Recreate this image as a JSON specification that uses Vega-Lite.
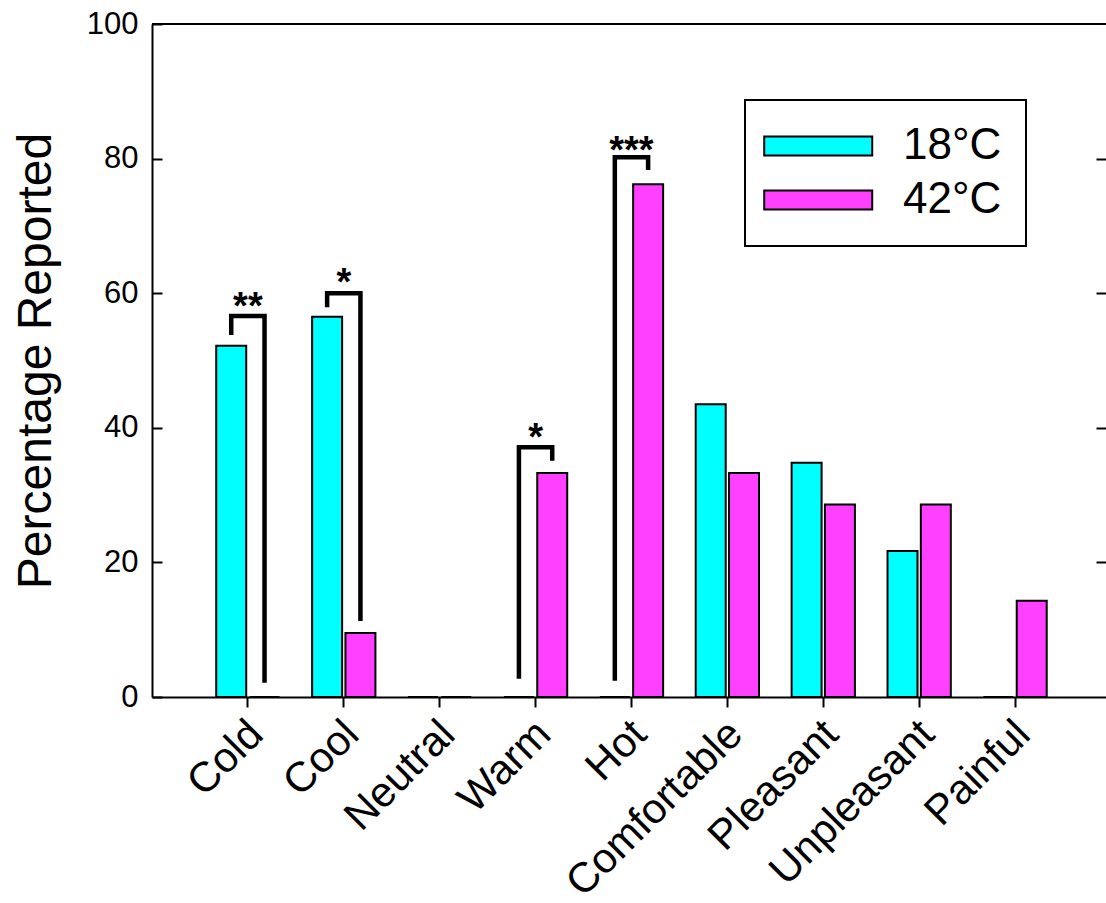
{
  "$schema": "https://vega.github.io/schema/vega-lite/v6.json",
  "width": 954,
  "height": 673,
  "autosize": "none",
  "padding": {"left": 152, "top": 24, "right": 0, "bottom": 206},
  "background": "white",
  "config": {
    "font": "Liberation Sans",
    "view": {"stroke": null},
    "legend": {"strokeWidth": 2}
  },
  "datasets": {
    "bars": [
      {"cat": "Cold", "temp": "18°C", "pct": 52.2},
      {"cat": "Cold", "temp": "42°C", "pct": 0},
      {"cat": "Cool", "temp": "18°C", "pct": 56.5},
      {"cat": "Cool", "temp": "42°C", "pct": 9.5},
      {"cat": "Neutral", "temp": "18°C", "pct": 0},
      {"cat": "Neutral", "temp": "42°C", "pct": 0},
      {"cat": "Warm", "temp": "18°C", "pct": 0},
      {"cat": "Warm", "temp": "42°C", "pct": 33.3},
      {"cat": "Hot", "temp": "18°C", "pct": 0},
      {"cat": "Hot", "temp": "42°C", "pct": 76.2},
      {"cat": "Comfortable", "temp": "18°C", "pct": 43.5},
      {"cat": "Comfortable", "temp": "42°C", "pct": 33.3},
      {"cat": "Pleasant", "temp": "18°C", "pct": 34.8},
      {"cat": "Pleasant", "temp": "42°C", "pct": 28.6},
      {"cat": "Unpleasant", "temp": "18°C", "pct": 21.7},
      {"cat": "Unpleasant", "temp": "42°C", "pct": 28.6},
      {"cat": "Painful", "temp": "18°C", "pct": 0},
      {"cat": "Painful", "temp": "42°C", "pct": 14.3}
    ],
    "brackets": [
      {"cat": "Cold", "temp": "18°C", "y": 53.8, "o": 1},
      {"cat": "Cold", "temp": "18°C", "y": 56.6, "o": 2},
      {"cat": "Cold", "temp": "42°C", "y": 56.6, "o": 3},
      {"cat": "Cold", "temp": "42°C", "y": 2.1, "o": 4},
      {"cat": "Cool", "temp": "18°C", "y": 57.9, "o": 1},
      {"cat": "Cool", "temp": "18°C", "y": 60.0, "o": 2},
      {"cat": "Cool", "temp": "42°C", "y": 60.0, "o": 3},
      {"cat": "Cool", "temp": "42°C", "y": 11.3, "o": 4},
      {"cat": "Warm", "temp": "18°C", "y": 2.7, "o": 1},
      {"cat": "Warm", "temp": "18°C", "y": 37.1, "o": 2},
      {"cat": "Warm", "temp": "42°C", "y": 37.1, "o": 3},
      {"cat": "Warm", "temp": "42°C", "y": 35.1, "o": 4},
      {"cat": "Hot", "temp": "18°C", "y": 2.4, "o": 1},
      {"cat": "Hot", "temp": "18°C", "y": 80.2, "o": 2},
      {"cat": "Hot", "temp": "42°C", "y": 80.2, "o": 3},
      {"cat": "Hot", "temp": "42°C", "y": 78.3, "o": 4}
    ],
    "stars": [
      {"cat": "Cold", "y": 56.2, "label": "**"},
      {"cat": "Cool", "y": 59.8, "label": "*"},
      {"cat": "Warm", "y": 36.7, "label": "*"},
      {"cat": "Hot", "y": 79.3, "label": "***"}
    ]
  },
  "resolve": {"axis": {"y": "independent"}},
  "layer": [
    {
      "data": {"values": [{"v": 100}]},
      "mark": {"type": "rule", "color": "black", "strokeWidth": 2},
      "encoding": {
        "y": {
          "field": "v", "type": "quantitative",
          "scale": {"domain": [0, 100], "nice": false},
          "axis": {"orient": "right", "values": [20, 40, 60, 80], "labels": false, "domain": false, "tickSize": -10, "tickWidth": 2, "tickColor": "black", "title": null, "grid": false}
        }
      }
    },
    {
      "data": {"name": "bars"},
      "mark": {"type": "bar", "stroke": "black", "strokeWidth": 2, "opacity": 1},
      "encoding": {
        "x": {
          "field": "cat", "type": "nominal", "title": null,
          "sort": ["Cold", "Cool", "Neutral", "Warm", "Hot", "Comfortable", "Pleasant", "Unpleasant", "Painful"],
          "scale": {"type": "band", "paddingInner": 0.34, "paddingOuter": 0.644, "align": 0.52},
          "axis": {"labelAngle": -45, "labelFontSize": 42, "labelLimit": 0, "labelColor": "black", "tickSize": 10, "tickColor": "black", "tickWidth": 2, "domainColor": "black", "domainWidth": 2, "labelPadding": 6, "labelOffset": -6, "grid": false}
        },
        "xOffset": {
          "field": "temp", "type": "nominal",
          "scale": {"domain": ["18°C", "42°C"], "paddingInner": 0.1, "paddingOuter": 0}
        },
        "y": {
          "field": "pct", "type": "quantitative",
          "scale": {"domain": [0, 100], "nice": false},
          "axis": {"title": "Percentage Reported", "titleFontSize": 48, "titleFontWeight": "normal", "titleColor": "black", "titlePadding": 26, "values": [0, 20, 40, 60, 80, 100], "tickSize": -10, "tickWidth": 2, "tickColor": "black", "labelFontSize": 31, "labelColor": "black", "labelPadding": 24, "grid": false, "domainWidth": 2, "domainColor": "black"}
        },
        "color": {
          "field": "temp", "type": "nominal",
          "scale": {"domain": ["18°C", "42°C"], "range": ["#00FFFF", "#FF40FF"]},
          "legend": {"title": null, "orient": "none", "legendX": 593, "legendY": 76, "padding": 24, "strokeColor": "black", "fillColor": "white", "labelFontSize": 44, "labelColor": "black", "labelOffset": 90, "symbolType": "M-2.48,-0.88H7.52V0.88H-2.48Z", "symbolSize": 466.6, "symbolStrokeColor": "black", "symbolStrokeWidth": 2, "symbolOpacity": 1, "rowPadding": 10}
        }
      }
    },
    {
      "data": {"name": "brackets"},
      "mark": {"type": "line", "color": "black", "strokeWidth": 4.5, "strokeJoin": "miter", "strokeCap": "butt"},
      "encoding": {
        "x": {"field": "cat", "type": "nominal", "title": null, "sort": ["Cold", "Cool", "Neutral", "Warm", "Hot", "Comfortable", "Pleasant", "Unpleasant", "Painful"]},
        "xOffset": {"field": "temp", "type": "nominal"},
        "y": {"field": "y", "type": "quantitative", "axis": null},
        "detail": {"field": "cat", "type": "nominal"},
        "order": {"field": "o", "type": "quantitative"}
      }
    },
    {
      "data": {"name": "stars"},
      "mark": {"type": "text", "fontSize": 38, "fontWeight": "bold", "baseline": "alphabetic", "align": "center", "color": "black"},
      "encoding": {
        "x": {"field": "cat", "type": "nominal", "title": null, "sort": ["Cold", "Cool", "Neutral", "Warm", "Hot", "Comfortable", "Pleasant", "Unpleasant", "Painful"]},
        "y": {"field": "y", "type": "quantitative", "axis": null},
        "text": {"field": "label"}
      }
    }
  ]
}
